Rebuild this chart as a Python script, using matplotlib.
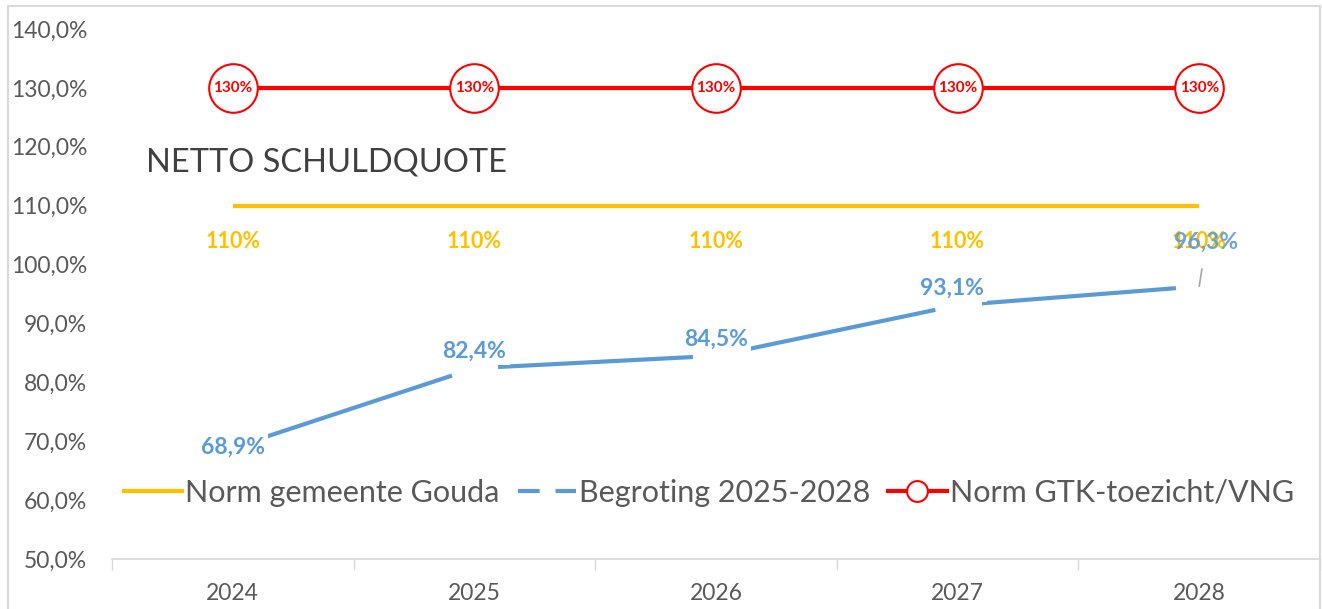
import matplotlib.pyplot as plt
from matplotlib.patches import Rectangle
from matplotlib.lines import Line2D

# data
years = ['2024', '2025', '2026', '2027', '2028']
norm_gouda = [110, 110, 110, 110, 110]
begroting = [68.9, 82.4, 84.5, 93.1, 96.3]
norm_gtk = [130, 130, 130, 130, 130]
y_ticks = [50, 60, 70, 80, 90, 100, 110, 120, 130, 140]

YELLOW = '#FFC000'
BLUE = '#5B9BD5'
RED = '#FF0000'
GREY = '#595959'

plt.rcParams['font.family'] = ['Lato', 'DejaVu Sans']

fig = plt.figure(figsize=(13.22, 6.09), dpi=100)
ax = fig.add_axes([112 / 1322, 50 / 609, 1208 / 1322, 530 / 609])

x = list(range(len(years)))

ax.plot(x, norm_gouda, color=YELLOW, lw=3, zorder=2, solid_capstyle='butt')
ax.plot(x, begroting, color=BLUE, lw=3, zorder=2, solid_capstyle='butt')
# white masks around the points, like the gaps Excel leaves behind data labels
ax.plot(x[1:], begroting[1:], ls='none', marker='o', ms=34, mfc='white',
        mec='none', zorder=3)
ax.plot(x, norm_gtk, color=RED, lw=3, zorder=2, marker='o', markersize=35,
        markerfacecolor='white', markeredgecolor=RED, markeredgewidth=1.5)

# labels inside the red circles
for xi, v in zip(x, norm_gtk):
    ax.text(xi, v, f'{v:.0f}%', color=RED, fontsize=11, fontweight='bold',
            ha='center', va='center', zorder=5)

# labels below yellow line
for xi, v in zip(x, norm_gouda):
    ax.annotate(f'{v:.0f}%', (xi, v), xytext=(0, -26), textcoords='offset points',
                color=YELLOW, fontsize=15.5, fontweight='bold', ha='center', va='center',
                zorder=4)

# labels for Begroting line
offsets = [(0, 0), (0, 12), (0, 12), (-4, 12), (5, 32)]
box = dict(boxstyle='square,pad=0.15', fc='white', ec='none')
for i, (xi, v) in enumerate(zip(x, begroting)):
    lbl = f'{v:.1f}%'.replace('.', ',')
    if i == len(x) - 1:
        ax.annotate(lbl, (xi, v), xytext=offsets[i], textcoords='offset points',
                    color=BLUE, fontsize=16.5, fontweight='bold', ha='center', va='center',
                    zorder=6, alpha=0.9,
                    arrowprops=dict(arrowstyle='-', color='#A6A6A6', lw=1.2,
                                    shrinkA=10, shrinkB=0))
    else:
        ax.annotate(lbl, (xi, v), xytext=offsets[i], textcoords='offset points',
                    color=BLUE, fontsize=16.5, fontweight='bold', ha='center', va='center',
                    zorder=6, bbox=box)

ax.text(-0.36, 117.3, 'NETTO SCHULDQUOTE', fontsize=23.5, color='#404040',
        ha='left', va='center')

ax.set_xlim(-0.5, 4.5)
ax.set_ylim(50, 140)
ax.set_yticks(y_ticks)
ax.set_yticklabels([f'{t:.1f}%'.replace('.', ',') for t in y_ticks])
ax.set_xticks(x)
ax.set_xticklabels(years)
ax.set_xticks([i - 0.5 for i in range(len(years) + 1)], minor=True)
ax.tick_params(axis='x', which='major', length=0, pad=17, labelsize=16.5, labelcolor=GREY)
ax.tick_params(axis='x', which='minor', length=8, color='#D9D9D9', width=1)
ax.tick_params(axis='y', length=0, pad=18, labelsize=16.5, labelcolor=GREY)

for s in ['top', 'right', 'left']:
    ax.spines[s].set_visible(False)
ax.spines['bottom'].set_color('#D9D9D9')
ax.spines['bottom'].set_linewidth(1.2)

handles = [
    Line2D([], [], color=YELLOW, lw=3),
    Line2D([], [], color=BLUE, lw=3, linestyle=(0, (5.2, 3.8))),
    Line2D([], [], color=RED, lw=3, marker='o', markersize=15,
           markerfacecolor='white', markeredgecolor=RED, markeredgewidth=1.5),
]
ax.legend(handles, ['Norm gemeente Gouda', 'Begroting 2025-2028', 'Norm GTK-toezicht/VNG'],
          loc='center', bbox_to_anchor=(0.494, 0.125), ncol=3, frameon=False,
          fontsize=22, labelcolor=GREY, handlelength=1.9, handletextpad=0.1,
          columnspacing=0.6)

fig.patches.append(Rectangle((8 / 1322, -0.1), 1312 / 1322, (603 / 609) + 0.1,
                             transform=fig.transFigure, fill=False,
                             ec='#D9D9D9', lw=1.5))

fig.savefig('out.png', dpi=100)
